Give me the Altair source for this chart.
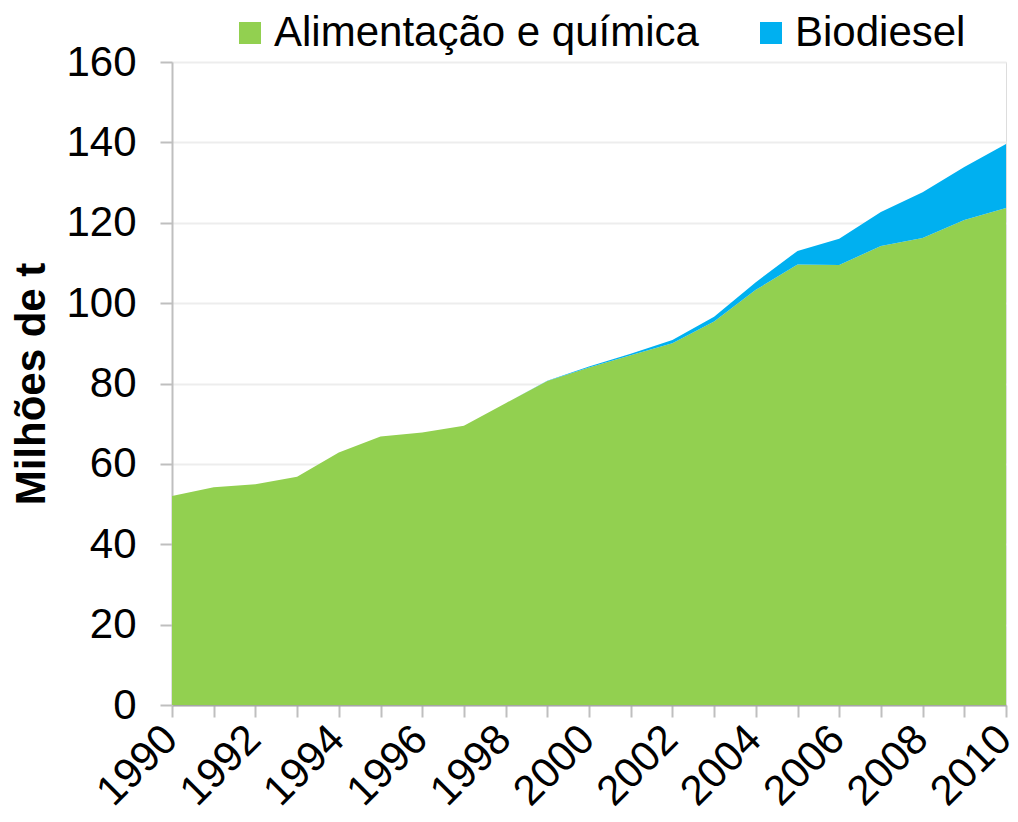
import altair as alt
import pandas as pd

years = list(range(1990, 2011))
alimentacao = [52.0, 54.2, 54.9, 56.8, 62.8, 66.8, 67.8, 69.5, 75.1, 80.6, 84.0,
               87.0, 90.0, 95.4, 103.3, 109.6, 109.5, 114.2, 116.2, 120.7, 123.7]
biodiesel = [0.0, 0.0, 0.0, 0.0, 0.0, 0.0, 0.0, 0.0, 0.0, 0.1, 0.2,
             0.4, 0.8, 1.2, 1.9, 3.4, 6.5, 8.5, 11.4, 13.2, 15.9]
series_names = ["Alimentação e química", "Biodiesel"]
series_colors = ["#92D050", "#00B0F0"]
y_ticks = [0, 20, 40, 60, 80, 100, 120, 140, 160]

rows = []
for i, y in enumerate(years):
    rows.append({"ano": y, "serie": series_names[0], "valor": alimentacao[i], "ord": 0})
    rows.append({"ano": y, "serie": series_names[1], "valor": biodiesel[i], "ord": 1})
df = pd.DataFrame(rows)

FONT = "Liberation Sans"
FS = 42

chart = alt.Chart(df).mark_area(opacity=1).encode(
    x=alt.X("ano:Q",
            scale=alt.Scale(domain=[1990, 2010], nice=False, zero=False),
            axis=alt.Axis(values=years, labelExpr="datum.value % 2 == 0 ? datum.value : ''",
                          title=None, grid=False, labelAngle=-45, labelAlign="right",
                          labelBaseline="middle", labelPadding=15, labelOffset=-2,
                          tickSize=12, tickColor="#BFBFBF", tickWidth=2,
                          domainColor="#A6A6A6", domainWidth=2,
                          labelFont=FONT, labelFontSize=FS, labelColor="#000000",
                          labelOverlap=False, labelBound=False, labelFlush=False)),
    y=alt.Y("valor:Q", stack="zero",
            scale=alt.Scale(domain=[0, 160], nice=False),
            axis=alt.Axis(values=y_ticks, title="Milhões de t", grid=True,
                          gridColor="#EDEDED", gridWidth=2,
                          tickSize=12, tickColor="#BFBFBF", tickWidth=2,
                          domainColor="#BFBFBF", domainWidth=2,
                          labelPadding=24, labelFont=FONT, labelFontSize=FS,
                          labelColor="#000000",
                          titleFont=FONT, titleFontSize=FS, titleFontWeight="bold",
                          titleColor="#000000", titlePadding=12)),
    color=alt.Color("serie:N",
                    scale=alt.Scale(domain=series_names, range=series_colors),
                    legend=alt.Legend(orient="none", direction="horizontal",
                                      legendX=57, legendY=-50, title=None,
                                      symbolType="square", symbolSize=484,
                                      symbolStrokeWidth=0, symbolOpacity=1,
                                      labelFont=FONT, labelFontSize=FS,
                                      labelColor="#000000", labelOffset=3,
                                      labelLimit=0,
                                      columnPadding=51, padding=0)),
    order=alt.Order("ord:Q", sort="ascending"),
).properties(
    width=834, height=643,
    autosize=alt.AutoSizeParams(type="none"),
    padding={"left": 164, "top": 54, "right": 4, "bottom": 109},
).configure_view(stroke=None).configure(font=FONT)

chart.save("out.html", embed_options={"renderer": "svg", "actions": False})
